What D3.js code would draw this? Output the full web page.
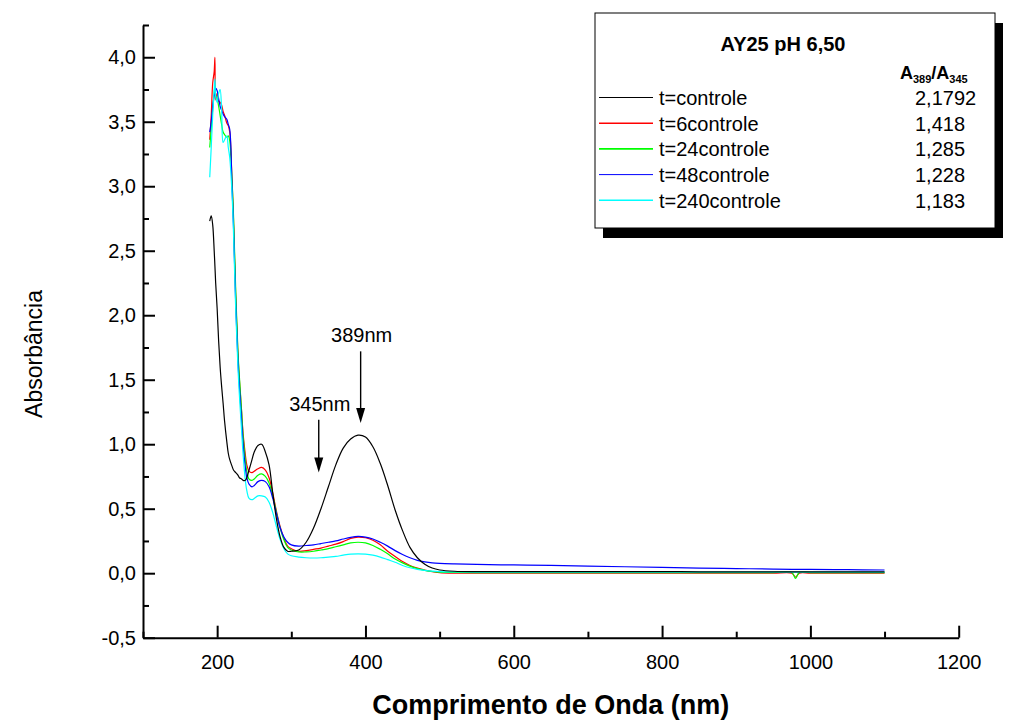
<!DOCTYPE html>
<html>
<head>
<meta charset="utf-8">
<script src="https://cdn.jsdelivr.net/npm/d3@7"></script>
<style>
  body { margin: 0; padding: 0; background: white; }
  svg { display: block; font-family: "Liberation Sans", Arial, sans-serif; }
</style>
</head>
<body>
<div id="chart"></div>
<script>
const width = 1017;
const height = 722;

// wavelength grid (nm), shared by every series
const wavelengths = [190, 192, 194, 196, 197, 198, 200, 202, 204, 206, 208, 210, 213, 215, 217, 220, 222, 225, 228, 230,
  233, 235, 238, 240, 243, 247, 250, 255, 260, 265, 270, 275, 280, 285, 290, 295, 300, 310, 320, 330,
  340, 350, 360, 370, 380, 390, 400, 410, 420, 430, 440, 450, 460, 470, 480, 490, 500, 520, 550, 600,
  650, 700, 750, 800, 850, 900, 950, 975, 980, 985, 1000, 1050, 1100];

const absControle = [2.73, 2.77, 2.70, 2.50, 2.38, 2.25, 2.05, 1.80, 1.60, 1.45, 1.32, 1.18, 1.02, 0.93, 0.88, 0.83, 0.80, 0.78, 0.76, 0.74,
  0.73, 0.72, 0.72, 0.74, 0.80, 0.88, 0.94, 0.99, 1.00, 0.94, 0.84, 0.62, 0.42, 0.28, 0.20, 0.17, 0.17, 0.18, 0.24, 0.35,
  0.50, 0.67, 0.84, 0.97, 1.04, 1.07, 1.055, 0.98, 0.85, 0.68, 0.49, 0.33, 0.20, 0.12, 0.07, 0.04, 0.025, 0.015, 0.012, 0.012,
  0.012, 0.012, 0.012, 0.012, 0.011, 0.011, 0.011, 0.011, 0.011, 0.011, 0.011, 0.010, 0.010];

const abs6 = [3.36, 3.55, 3.80, 3.89, 4.00, 3.67, 3.72, 3.66, 3.65, 3.63, 3.58, 3.55, 3.49, 3.47, 3.42, 3.05, 2.75, 2.15, 1.70, 1.50,
  1.25, 1.08, 0.92, 0.84, 0.79, 0.78, 0.79, 0.81, 0.82, 0.80, 0.74, 0.62, 0.48, 0.36, 0.27, 0.21, 0.19, 0.17, 0.175, 0.185,
  0.195, 0.21, 0.225, 0.245, 0.27, 0.28, 0.275, 0.255, 0.22, 0.17, 0.13, 0.09, 0.06, 0.04, 0.025, 0.012, 0.005, 0.001, 0.0, 0.0,
  0.0, 0.0, 0.0, 0.0, 0.0, 0.0, 0.0, 0.0, -0.03, 0.0, 0.0, 0.0, 0.0];

const abs24 = [3.30, 3.45, 3.60, 3.72, 3.78, 3.70, 3.68, 3.62, 3.55, 3.48, 3.42, 3.40, 3.38, 3.39, 3.35, 3.05, 2.78, 2.20, 1.72, 1.52,
  1.25, 1.06, 0.88, 0.79, 0.73, 0.72, 0.73, 0.76, 0.77, 0.75, 0.70, 0.60, 0.47, 0.35, 0.26, 0.20, 0.18, 0.165, 0.165, 0.17,
  0.18, 0.19, 0.205, 0.22, 0.235, 0.24, 0.235, 0.215, 0.185, 0.15, 0.11, 0.08, 0.055, 0.035, 0.022, 0.013, 0.008, 0.006, 0.005, 0.005,
  0.005, 0.005, 0.005, 0.005, 0.005, 0.005, 0.005, 0.005, -0.04, 0.005, 0.005, 0.005, 0.005];

const abs48 = [3.42, 3.50, 3.62, 3.70, 3.72, 3.76, 3.74, 3.68, 3.62, 3.59, 3.56, 3.54, 3.52, 3.48, 3.44, 3.00, 2.70, 2.10, 1.65, 1.45,
  1.18, 1.00, 0.82, 0.74, 0.69, 0.67, 0.68, 0.71, 0.72, 0.71, 0.67, 0.58, 0.46, 0.35, 0.28, 0.24, 0.22, 0.21, 0.215, 0.22,
  0.23, 0.24, 0.25, 0.265, 0.278, 0.285, 0.28, 0.265, 0.24, 0.21, 0.175, 0.145, 0.12, 0.10, 0.088, 0.08, 0.076, 0.072, 0.068, 0.064,
  0.06, 0.055, 0.05, 0.045, 0.04, 0.036, 0.032, 0.03, 0.03, 0.03, 0.029, 0.027, 0.025];

const abs240 = [3.07, 3.30, 3.55, 3.75, 3.83, 3.70, 3.65, 3.72, 3.75, 3.60, 3.34, 3.36, 3.39, 3.30, 3.22, 2.95, 2.65, 2.05, 1.60, 1.38,
  1.10, 0.92, 0.72, 0.64, 0.58, 0.57, 0.58, 0.60, 0.60, 0.59, 0.55, 0.47, 0.36, 0.26, 0.19, 0.15, 0.135, 0.125, 0.12, 0.118,
  0.12, 0.125, 0.13, 0.14, 0.148, 0.15, 0.148, 0.14, 0.125, 0.105, 0.085, 0.06, 0.042, 0.03, 0.022, 0.016, 0.012, 0.01, 0.009, 0.008,
  0.008, 0.008, 0.008, 0.008, 0.008, 0.008, 0.008, 0.008, 0.008, 0.008, 0.008, 0.008, 0.008];

const seriesNames = ["t=controle", "t=6controle", "t=24controle", "t=48controle", "t=240controle"];
const seriesColors = ["#000000", "#ff0000", "#00ff00", "#0000ff", "#00ffff"];
const ratios = ["2,1792", "1,418", "1,285", "1,228", "1,183"];
const seriesValues = [absControle, abs6, abs24, abs48, abs240];

const xMajorTicks = [200, 400, 600, 800, 1000, 1200];
const xMinorTicks = [100, 300, 500, 700, 900, 1100];
const yMajorTicks = [-0.5, 0.0, 0.5, 1.0, 1.5, 2.0, 2.5, 3.0, 3.5, 4.0];
const yMinorTicks = [-0.25, 0.25, 0.75, 1.25, 1.75, 2.25, 2.75, 3.25, 3.75, 4.25];

// peak annotations: label, wavelength of arrow, arrow top, arrow tip
const peakNotes = [
  { label: "389nm", wl: 393.5, top: 1.72, tip: 1.165 },
  { label: "345nm", wl: 337, top: 1.19, tip: 0.78 }
];

const svg = d3.select("#chart")
  .append("svg")
  .attr("width", width)
  .attr("height", height);

const x = d3.scaleLinear().domain([100, 1200]).range([143, 958.7]);
const y = d3.scaleLinear().domain([-0.5, 4.25]).range([637.7, 25]);

const ptLocale = d3.formatLocale({ decimal: ",", thousands: ".", grouping: [3], currency: ["", ""], minus: "-" });
const yFormat = ptLocale.format(".1f");

// axes (ticks point inward, like Origin)
svg.append("g")
  .attr("transform", "translate(0," + y(-0.5) + ")")
  .call(d3.axisBottom(x).tickValues(xMajorTicks).tickSizeInner(-12).tickSizeOuter(0).tickPadding(17).tickFormat(d3.format("d")));

svg.append("g")
  .attr("transform", "translate(0," + y(-0.5) + ")")
  .call(d3.axisBottom(x).tickValues(xMinorTicks).tickSizeInner(-6).tickSizeOuter(0).tickFormat(""))
  .select(".domain").remove();

svg.append("g")
  .attr("transform", "translate(" + x(100) + ",0)")
  .call(d3.axisLeft(y).tickValues(yMajorTicks).tickSizeInner(-12).tickSizeOuter(0).tickPadding(7).tickFormat(yFormat));

svg.append("g")
  .attr("transform", "translate(" + x(100) + ",0)")
  .call(d3.axisLeft(y).tickValues(yMinorTicks).tickSizeInner(-6).tickSizeOuter(0).tickFormat(""))
  .select(".domain").remove();

svg.selectAll(".domain").attr("stroke-width", 2);
svg.selectAll(".tick line").attr("stroke-width", 2);
svg.selectAll(".tick text")
  .attr("font-size", 20)
  .attr("font-family", "'Liberation Sans', Arial, sans-serif")
  .attr("fill", "#000");

// spectra
const line = d3.line()
  .x((d) => x(d[0]))
  .y((d) => y(d[1]))
  .curve(d3.curveCatmullRom.alpha(0.5));

// coloured ones first, black last
const drawOrder = [1, 2, 3, 4, 0];
drawOrder.forEach(function (i) {
  const pts = wavelengths.map((w, j) => [w, seriesValues[i][j]]);
  svg.append("path")
    .datum(pts)
    .attr("d", line)
    .attr("fill", "none")
    .attr("stroke", seriesColors[i])
    .attr("stroke-width", 1.2);
});

// axis titles
svg.append("text")
  .attr("transform", "translate(42,354) rotate(-90)")
  .attr("text-anchor", "middle")
  .attr("font-size", 23)
  .text("Absorbância");

svg.append("text")
  .attr("x", (x(100) + x(1200)) / 2)
  .attr("y", 714)
  .attr("text-anchor", "middle")
  .attr("font-size", 27)
  .attr("font-weight", "bold")
  .text("Comprimento de Onda (nm)");

// arrows for 389nm and 345nm
peakNotes.forEach(function (n) {
  const ax = x(n.wl);
  svg.append("line")
    .attr("x1", ax).attr("x2", ax)
    .attr("y1", y(n.top)).attr("y2", y(n.tip) - 10)
    .attr("stroke", "black")
    .attr("stroke-width", 1.4);
  svg.append("path")
    .attr("d", "M" + (ax - 4.5) + "," + (y(n.tip) - 15) + "L" + (ax + 4.5) + "," + (y(n.tip) - 15) + "L" + ax + "," + y(n.tip) + "Z")
    .attr("fill", "black");
  svg.append("text")
    .attr("x", ax + 1)
    .attr("y", y(n.top) - 9)
    .attr("text-anchor", "middle")
    .attr("font-size", 20)
    .text(n.label);
});

// legend box with shadow
const legend = svg.append("g");
legend.append("rect")
  .attr("x", 603).attr("y", 23)
  .attr("width", 400).attr("height", 215)
  .attr("fill", "black");
legend.append("rect")
  .attr("x", 595).attr("y", 13)
  .attr("width", 400).attr("height", 215)
  .attr("fill", "white")
  .attr("stroke", "black")
  .attr("stroke-width", 1);

legend.append("text")
  .attr("x", 783).attr("y", 51)
  .attr("text-anchor", "middle")
  .attr("font-size", 20)
  .attr("font-weight", "bold")
  .text("AY25 pH 6,50");

const header = legend.append("text")
  .attr("x", 900).attr("y", 79)
  .attr("font-size", 18)
  .attr("font-weight", "bold");
header.append("tspan").text("A");
header.append("tspan").attr("font-size", 11).attr("dy", 4).text("389");
header.append("tspan").attr("dy", -4).text("/A");
header.append("tspan").attr("font-size", 11).attr("dy", 4).text("345");

const rows = legend.selectAll(".row")
  .data(seriesNames)
  .enter()
  .append("g")
  .attr("class", "row")
  .attr("transform", (d, i) => "translate(0," + (97.5 + i * 25.7) + ")");

rows.append("line")
  .attr("x1", 599).attr("x2", 653)
  .attr("stroke", (d, i) => seriesColors[i])
  .attr("stroke-width", (d, i) => (i === 0 || i === 3) ? 1 : 1.6);

rows.append("text")
  .attr("x", 659).attr("y", 7.5)
  .attr("font-size", 20)
  .text((d) => d);

rows.append("text")
  .attr("x", 915).attr("y", 7.5)
  .attr("font-size", 20)
  .text((d, i) => ratios[i]);
</script>
</body>
</html>
